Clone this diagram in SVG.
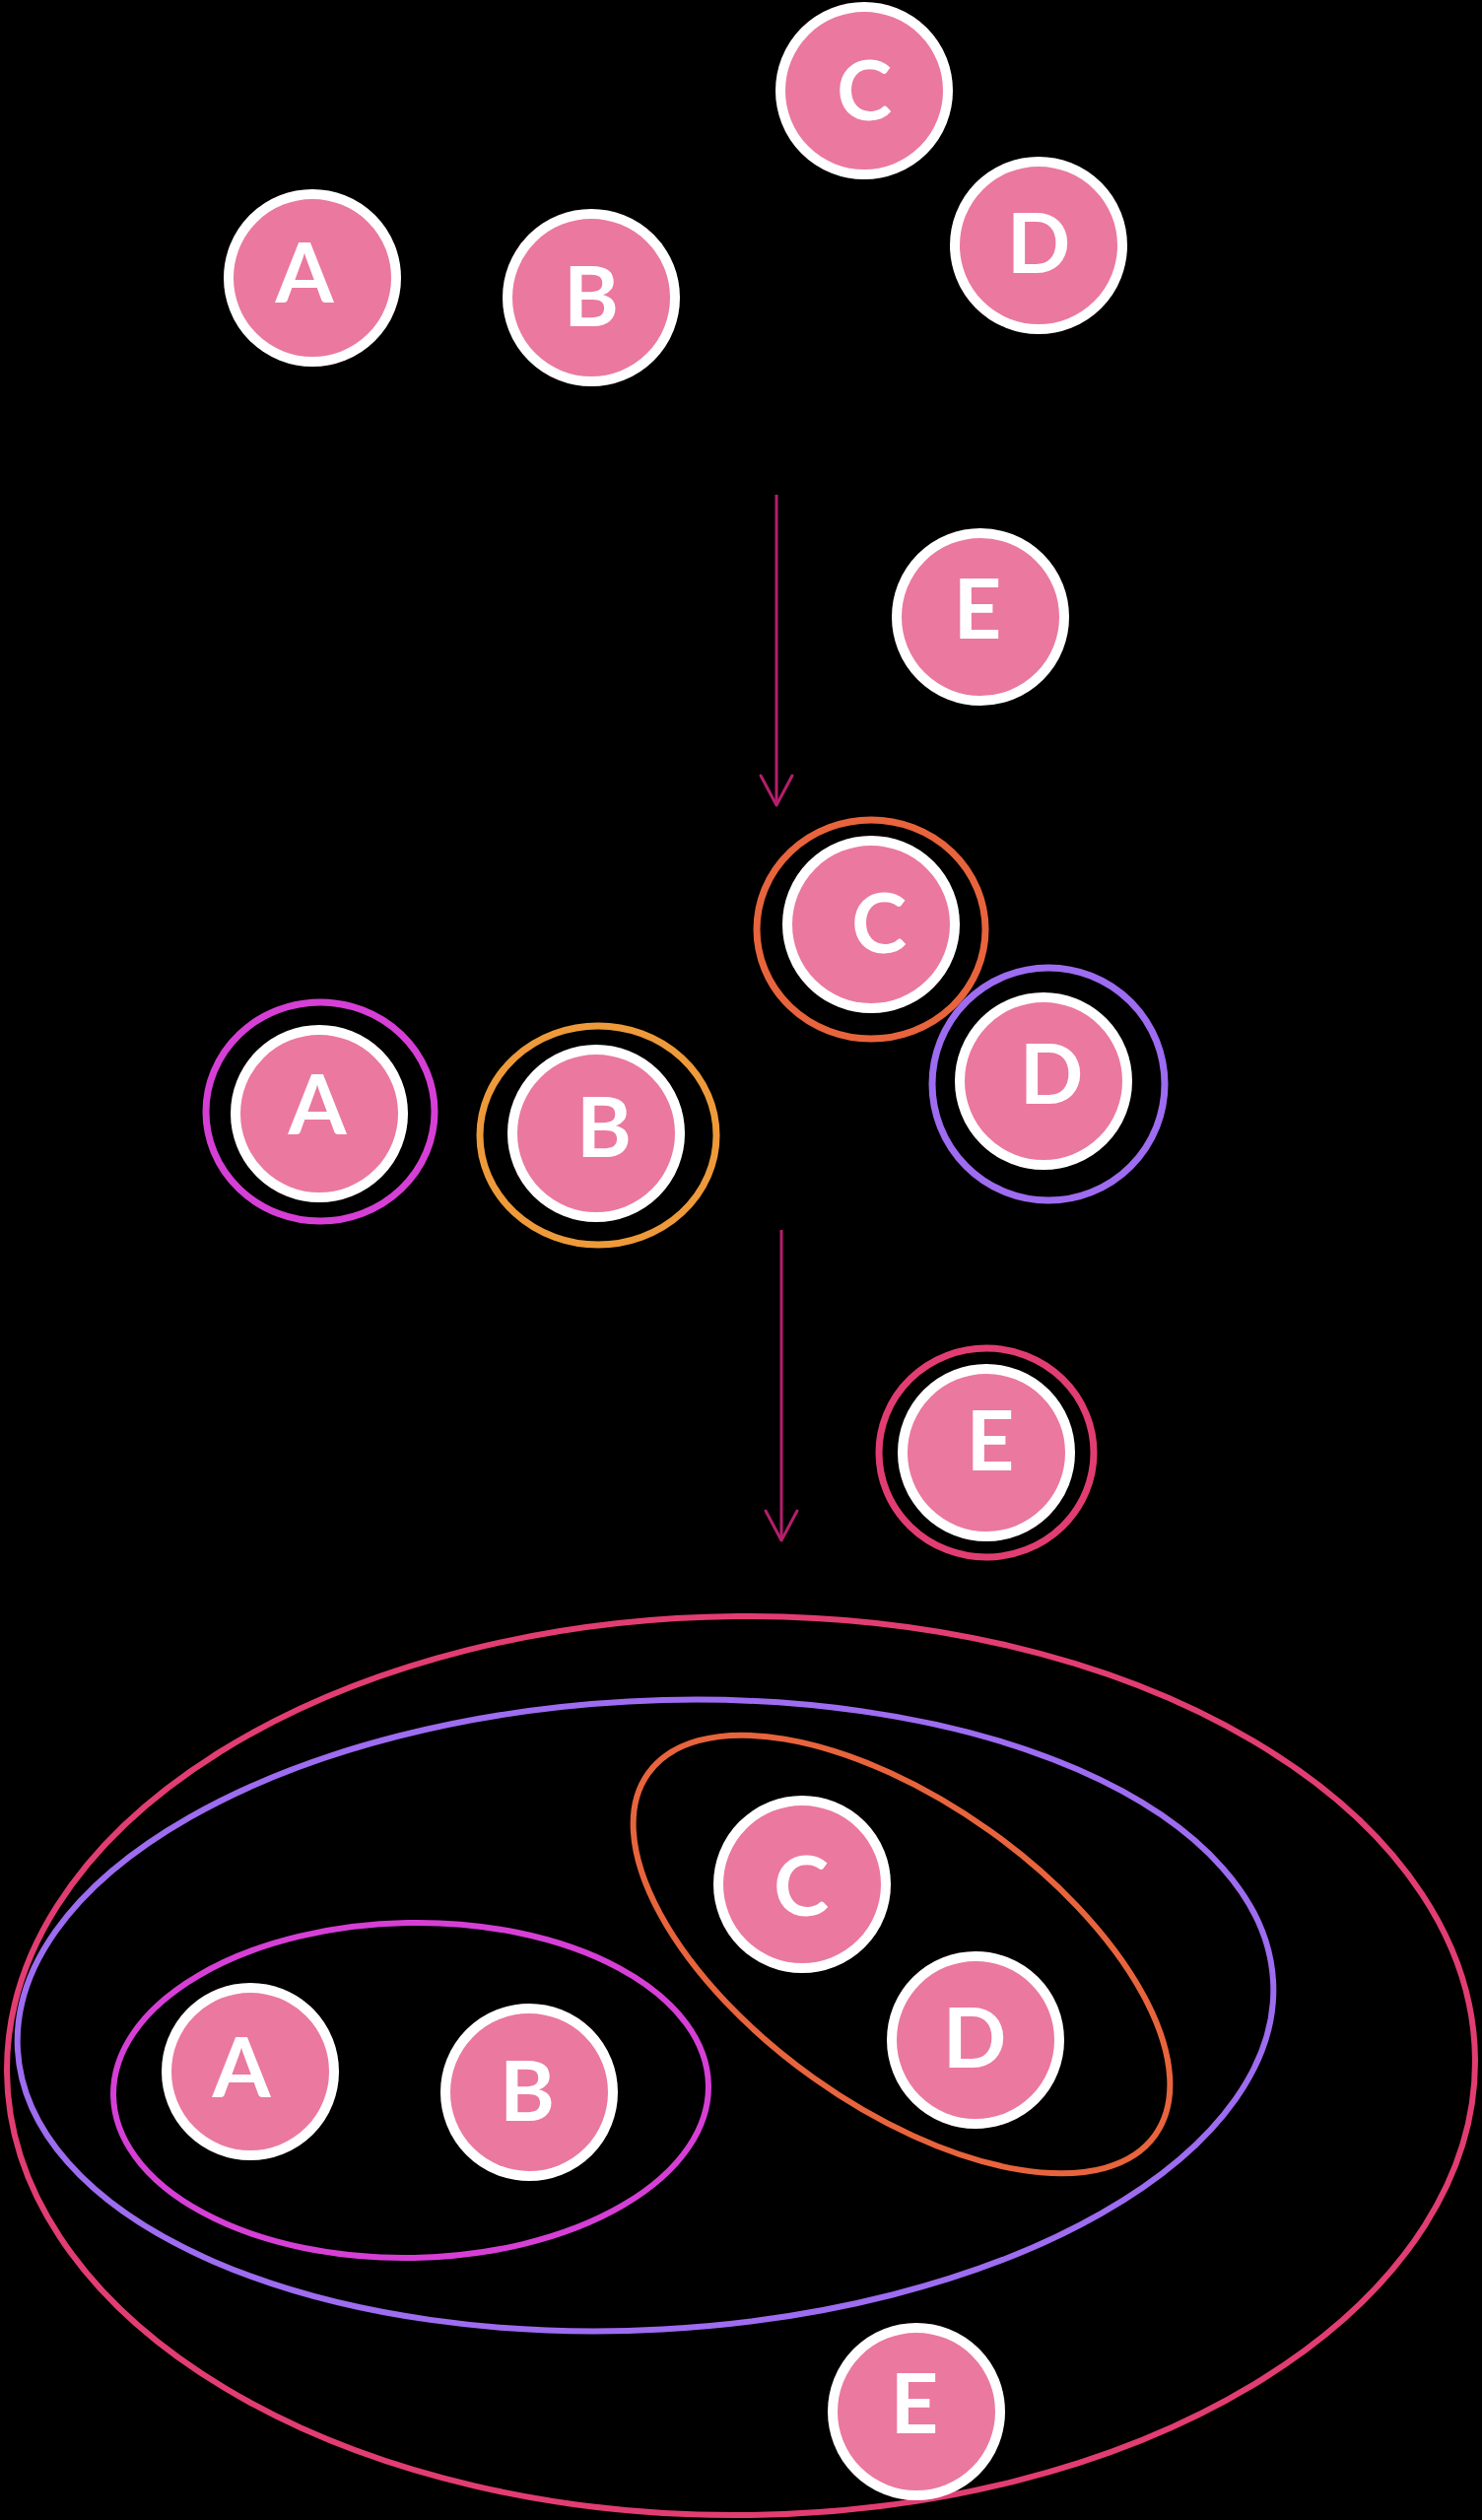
<svg xmlns="http://www.w3.org/2000/svg" width="1504" height="2557" viewBox="0 0 1504 2557">
<style>
.node{fill:#EB789E;stroke:#FFFFFF;stroke-width:10}
.lbl{font-family:Lato,"Liberation Sans",sans-serif;font-weight:700;font-size:85px;fill:#FFFFFF;text-anchor:middle}
.ring{fill:none;stroke-width:7}
.grp{fill:none;stroke-width:6}
.cA{stroke:#D63FD6}
.cB{stroke:#EE9A3A}
.cC{stroke:#E8643C}
.cD{stroke:#9D6CF0}
.cE{stroke:#E23D72}
.arrow{fill:none;stroke:#B51E6C;stroke-width:3}
</style>
<defs>
<marker id="vhead" viewBox="0 0 40 40" markerUnits="userSpaceOnUse" markerWidth="40" markerHeight="40" refX="30" refY="20" orient="auto" overflow="visible">
<path d="M0,4 L30,20 L0,36" fill="none" stroke="#B51E6C" stroke-width="3" stroke-linejoin="round" stroke-linecap="round"/>
</marker>
</defs>
<rect x="0" y="0" width="1504" height="2557" fill="#000000"/>

<g id="connectors">
<line class="arrow" x1="788" y1="502" x2="788" y2="817" marker-end="url(#vhead)"/>
<line class="arrow" x1="793" y1="1248" x2="793" y2="1563" marker-end="url(#vhead)"/>
</g>

<!-- Stage 1 -->
<g id="stage1-A"><circle class="node" cx="317" cy="282" r="85"/><text class="lbl" x="309" y="307">A</text></g>
<g id="stage1-B"><circle class="node" cx="600" cy="302" r="85"/><text class="lbl" x="600" y="331">B</text></g>
<g id="stage1-C"><circle class="node" cx="877" cy="92" r="85"/><text class="lbl" x="877" y="122">C</text></g>
<g id="stage1-D"><circle class="node" cx="1054" cy="249" r="85"/><text class="lbl" x="1054" y="277">D</text></g>
<g id="stage1-E"><circle class="node" cx="995" cy="626" r="85"/><text class="lbl" x="992" y="648">E</text></g>

<!-- Stage 2 -->
<g id="stage2-A"><ellipse class="ring cA" cx="325" cy="1128" rx="116" ry="111"/><circle class="node" cx="324" cy="1130" r="85"/><text class="lbl" x="322" y="1151">A</text></g>
<g id="stage2-B"><ellipse class="ring cB" cx="607" cy="1152" rx="120" ry="111"/><circle class="node" cx="605" cy="1150" r="85"/><text class="lbl" x="613" y="1174">B</text></g>
<g id="stage2-C"><ellipse class="ring cC" cx="884" cy="943" rx="116" ry="111"/><circle class="node" cx="884" cy="938" r="85"/><text class="lbl" x="892" y="967">C</text></g>
<g id="stage2-D"><ellipse class="ring cD" cx="1064" cy="1100" rx="118" ry="118"/><circle class="node" cx="1059" cy="1097" r="85"/><text class="lbl" x="1067" y="1120">D</text></g>
<g id="stage2-E"><ellipse class="ring cE" cx="1001" cy="1474" rx="109" ry="106"/><circle class="node" cx="1001" cy="1474" r="85"/><text class="lbl" x="1005" y="1492">E</text></g>

<!-- Stage 3 groupings -->
<g id="group-ABCDE"><ellipse class="grp cE" cx="752" cy="2096" rx="745" ry="456" transform="rotate(-0.5 752 2096)"/></g>
<g id="group-ABCD"><ellipse class="grp cD" cx="655" cy="2045" rx="638" ry="319" transform="rotate(-3.1 655 2045)"/></g>
<g id="group-AB"><ellipse class="grp cA" cx="417" cy="2121" rx="302" ry="170" transform="rotate(-1 417 2121)"/></g>
<g id="group-CD"><ellipse class="grp cC" cx="915" cy="1983" rx="316" ry="154" transform="rotate(35.5 915 1983)"/></g>

<!-- Stage 3 nodes -->
<g id="stage3-A"><circle class="node" cx="254" cy="2102" r="85"/><text class="lbl" x="245" y="2128">A</text></g>
<g id="stage3-B"><circle class="node" cx="537" cy="2123" r="85"/><text class="lbl" x="535" y="2152">B</text></g>
<g id="stage3-C"><circle class="node" cx="814" cy="1912" r="85"/><text class="lbl" x="813" y="1944">C</text></g>
<g id="stage3-D"><circle class="node" cx="990" cy="2070" r="85"/><text class="lbl" x="989" y="2098">D</text></g>
<g id="stage3-E"><circle class="node" cx="930" cy="2447" r="85"/><text class="lbl" x="928" y="2469">E</text></g>
</svg>
